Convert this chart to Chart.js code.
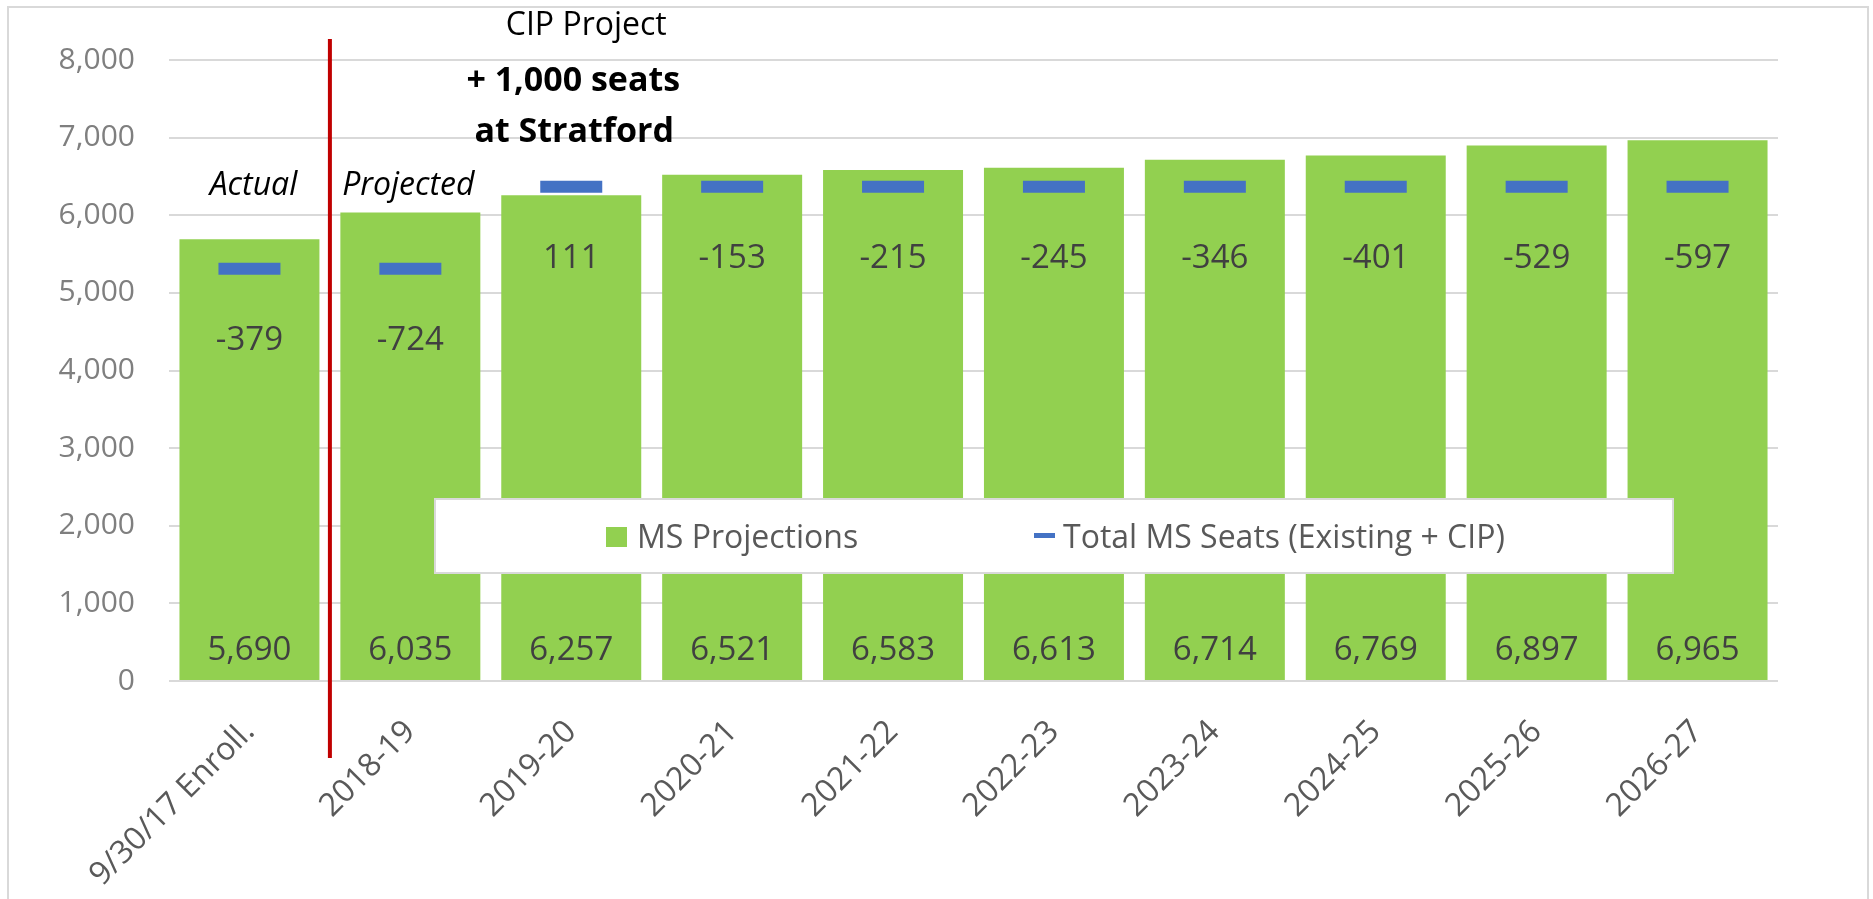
<!DOCTYPE html>
<html>
<head>
<meta charset="utf-8">
<script src="https://cdn.jsdelivr.net/npm/chart.js@4/dist/chart.umd.min.js"></script>
<style>
html,body{margin:0;padding:0;background:#fff;overflow:hidden}
#wrap{width:1873px;height:899px;position:relative}
canvas{display:block}
</style>
</head>
<body>
<div id="wrap"><canvas id="c" width="1873" height="899"></canvas></div>
<script>
const categories = ['9/30/17 Enroll.', '2018-19', '2019-20', '2020-21', '2021-22', '2022-23', '2023-24', '2024-25', '2025-26', '2026-27'];
const projections = [5690, 6035, 6257, 6521, 6583, 6613, 6714, 6769, 6897, 6965];
const totalSeats = [5311, 5311, 6368, 6368, 6368, 6368, 6368, 6368, 6368, 6368];
const seatGap = [-379, -724, 111, -153, -215, -245, -346, -401, -529, -597];
const yTickValues = [0, 1000, 2000, 3000, 4000, 5000, 6000, 7000, 8000];
const seriesNames = ['MS Projections', 'Total MS Seats (Existing + CIP)'];

const FONT = "'Open Sans', 'Liberation Sans', sans-serif";
const GREEN = '#92D050';
const BLUE = '#4472C4';

const decor = {
  id: 'decor',
  beforeDraw(chart) {
    const ctx = chart.ctx;
    ctx.save();
    ctx.fillStyle = '#ffffff';
    ctx.fillRect(0, 0, chart.width, chart.height);
    ctx.strokeStyle = '#d9d9d9';
    ctx.lineWidth = 2;
    ctx.strokeRect(8, 7, 1860, 960);
    ctx.restore();
  },
  afterDatasetsDraw(chart) {
    const ctx = chart.ctx;
    const xs = chart.scales.x, ys = chart.scales.y;
    ctx.save();
    // value labels at bar base
    ctx.font = `33px ${FONT}`;
    ctx.fillStyle = '#404040';
    ctx.textAlign = 'center';
    ctx.textBaseline = 'alphabetic';
    const barMeta = chart.getDatasetMeta(1);
    barMeta.data.forEach((bar, i) => {
      ctx.fillText(projections[i].toLocaleString('en-US'), bar.x, ys.bottom - 21);
    });
    // gap labels below seat markers
    seatGap.forEach((g, i) => {
      ctx.fillText(String(g), xs.getPixelForValue(i), ys.getPixelForValue(totalSeats[i]) + 81);
    });
    // red divider between actual and projected
    const bx = (xs.getPixelForValue(0) + xs.getPixelForValue(1)) / 2;
    ctx.strokeStyle = '#C00000';
    ctx.lineWidth = 4;
    ctx.beginPath();
    ctx.moveTo(bx, 39);
    ctx.lineTo(bx, 758);
    ctx.stroke();
    // annotations
    ctx.fillStyle = '#000000';
    ctx.font = `italic 32px ${FONT}`;
    ctx.fillText('Actual', xs.getPixelForValue(0) + 4, 195);
    ctx.fillText('Projected', xs.getPixelForValue(1) - 2, 195);
    ctx.font = `32px ${FONT}`;
    ctx.fillText('CIP Project', xs.getPixelForValue(2) + 15, 35);
    ctx.font = `bold 34px ${FONT}`;
    ctx.fillText('+ 1,000 seats', xs.getPixelForValue(2) + 2, 91);
    ctx.fillText('at Stratford', xs.getPixelForValue(2) + 3, 142);
    ctx.restore();
  },
  afterDraw(chart) {
    const ctx = chart.ctx;
    ctx.save();
    // legend box inside the plot
    ctx.fillStyle = '#ffffff';
    ctx.fillRect(435, 499, 1238, 74);
    ctx.strokeStyle = '#d9d9d9';
    ctx.lineWidth = 2;
    ctx.strokeRect(435, 499, 1238, 74);
    ctx.font = `32px ${FONT}`;
    ctx.textAlign = 'left';
    ctx.textBaseline = 'alphabetic';
    const ds = chart.data.datasets;
    ctx.fillStyle = ds[1].backgroundColor;
    ctx.fillRect(606, 527, 21, 20);
    ctx.fillStyle = '#595959';
    ctx.fillText(ds[1].label, 637, 548);
    ctx.fillStyle = ds[0].borderColor;
    ctx.fillRect(1034, 533, 21, 5);
    ctx.fillStyle = '#595959';
    ctx.fillText(ds[0].label, 1063, 548);
    ctx.restore();
  }
};

new Chart(document.getElementById('c'), {
  data: {
    labels: categories,
    datasets: [
      {
        type: 'line',
        label: seriesNames[1],
        data: totalSeats,
        showLine: false,
        pointStyle: 'line',
        pointRadius: 31,
        pointHoverRadius: 31,
        pointBorderWidth: 12,
        pointHoverBorderWidth: 12,
        borderColor: BLUE,
        backgroundColor: BLUE,
        order: 0
      },
      {
        type: 'bar',
        label: seriesNames[0],
        data: projections,
        backgroundColor: GREEN,
        barPercentage: 0.87,
        categoryPercentage: 1,
        order: 1
      }
    ]
  },
  options: {
    responsive: false,
    animation: false,
    devicePixelRatio: 1,
    events: [],
    layout: { padding: { top: 60, right: 95, left: 0, bottom: 0 } },
    plugins: { legend: { display: false }, tooltip: { enabled: false } },
    scales: {
      x: {
        offset: true,
        grid: { display: false, drawTicks: false },
        border: { display: false },
        ticks: {
          autoSkip: false,
          minRotation: 45,
          maxRotation: 45,
          padding: 32,
          labelOffset: 0,
          color: '#595959',
          font: { family: FONT, size: 32 }
        },
        afterFit(s) { s.height = 899 - 681; }
      },
      y: {
        min: 0,
        max: 8000,
        afterBuildTicks(s) { s.ticks = yTickValues.map(v => ({ value: v })); },
        ticks: {
          padding: 34,
          color: '#7f7f7f',
          font: { family: FONT, size: 30 },
          callback: v => Number(v).toLocaleString('en-US')
        },
        grid: { color: '#d9d9d9', lineWidth: 2, drawTicks: false },
        border: { display: false },
        afterFit(s) { s.width = 169; }
      }
    }
  },
  plugins: [decor]
});
</script>
</body>
</html>
